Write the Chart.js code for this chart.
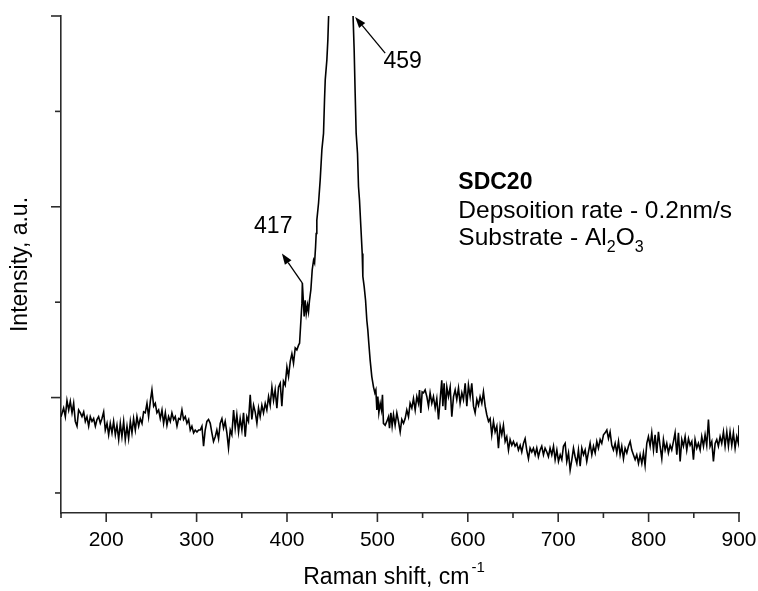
<!DOCTYPE html>
<html>
<head>
<meta charset="utf-8">
<title>SDC20 Raman spectrum</title>
<script src="https://cdn.jsdelivr.net/npm/chart.js@4.4.1/dist/chart.umd.min.js"></script>
<style>
  html, body { margin: 0; padding: 0; background: #fff; }
  #wrap { width: 758px; height: 591px; }
</style>
</head>
<body>
<div id="wrap"><canvas id="chart" width="758" height="591"></canvas></div>
<script>
// Raman shift (cm^-1) and intensity (a.u.) of the SDC20 film
const ramanShift = [
  150.0,152.9,154.8,156.6,158.5,160.3,162.2,164.0,165.8,167.7,169.5,171.4,173.2,175.1,176.9,178.7,180.6,182.4,184.3,186.1,
  188.0,189.8,191.6,193.5,195.3,197.2,199.0,200.9,202.7,204.5,206.4,208.2,210.1,211.9,213.8,215.6,217.4,219.3,221.1,223.0,
  224.8,226.7,228.5,230.3,232.2,234.0,235.9,237.7,239.6,241.4,243.2,245.1,246.9,248.8,250.6,252.5,254.3,256.1,258.0,259.8,
  261.7,263.5,265.4,267.2,269.0,270.9,272.7,274.6,276.4,278.3,280.1,281.9,283.8,285.6,287.5,289.3,291.2,293.0,294.8,296.7,
  298.5,300.4,302.2,304.1,305.9,307.7,
  309.5,311.4,313.2,315.1,316.9,318.7,320.6,322.4,324.3,326.1,328.0,329.8,331.6,333.5,335.3,337.2,339.0,340.9,342.7,344.5,
  346.4,348.2,350.1,351.9,353.8,355.6,357.4,359.3,361.1,363.0,364.8,366.7,368.5,370.3,372.2,374.0,375.9,377.7,379.6,381.4,
  383.3,385.1,386.9,388.8,390.6,392.5,394.3,396.1,398.0,
  399.9,401.7,403.6,405.4,407.2,409.1,410.9,412.8,413.9,415.4,416.5,417.0,419.0,420.1,421.3,422.7,423.8,424.9,426.4,427.9,
  429.4,430.5,431.6,432.3,433.0,434.9,436.7,438.6,440.4,441.5,442.3,444.1,445.2,445.9,446.7,450.0,455.0,459.0,463.0,468.0,
  471.0,472.9,474.3,475.4,476.5,478.0,479.1,480.2,481.7,483.2,483.9,485.4,486.9,488.3,489.4,490.5,492.0,
  493.8,495.7,497.2,498.3,499.4,500.5,501.6,503.1,504.5,505.6,506.7,508.6,510.4,512.3,513.4,514.9,516.3,517.8,519.6,521.5,
  523.3,525.2,527.0,528.9,530.7,532.5,534.4,536.2,538.1,539.9,541.8,543.6,545.4,546.6,548.0,549.5,551.0,552.8,554.7,556.5,
  558.3,560.2,562.0,563.9,565.7,567.6,569.4,571.2,572.4,573.8,575.3,576.8,578.6,580.5,582.3,584.2,586.0,587.8,589.7,591.5,
  593.4,595.2,597.1,598.9,600.7,602.6,604.4,606.3,608.1,610.0,611.8,613.6,615.5,617.3,619.2,621.0,622.9,624.7,626.5,628.4,
  630.2,632.1,633.9,635.8,637.6,639.4,641.3,643.1,645.0,646.8,648.7,650.5,652.3,654.2,656.0,657.9,659.7,661.6,663.4,665.2,
  667.1,668.9,670.8,672.6,674.5,676.3,678.1,680.0,681.8,683.7,685.5,687.4,689.2,691.0,
  692.9,694.8,696.6,698.5,700.3,702.2,704.0,705.8,707.7,709.5,711.4,713.2,715.1,716.9,718.7,720.6,722.4,724.3,726.1,728.0,
  729.8,731.6,733.5,735.3,737.2,739.0,740.9,742.7,744.5,746.4,748.2,750.1,751.9,753.8,755.6,757.4,759.3,761.1,763.0,764.8,
  766.7,768.5,770.3,772.2,774.0,775.9,777.7,779.6,781.4,783.2,785.1,786.9,788.8,790.6,792.5,794.3,796.1,798.0,799.8,801.7,
  803.5,805.4,807.2,809.0,810.9,812.7,814.6,816.4,818.3,820.1,821.9,823.8,825.6,827.5,829.3,831.2,833.0,834.9,836.7,838.5,
  840.4,842.2,844.1,845.9,847.8,849.6,851.4,853.3,855.1,857.0,858.8,860.7,862.5,864.3,866.2,868.0,869.9,871.7,873.6,875.4,
  877.2,879.1,880.9,882.8,884.6,886.5,888.3,890.1,892.0,893.8,895.7,897.5,899.4,900.0
];
const intensity = [
  80,89,80,97,87,96,84,94,75,70,87,84,80,85,75,80,70,80,75,78,
  70,77,80,73,78,85,66,73,61,73,63,75,61,71,56,73,59,75,56,70,
  57,75,63,78,66,80,70,78,73,85,84,94,80,96,108,91,94,84,87,78,
  87,73,84,71,80,75,84,77,80,70,78,77,87,77,80,73,77,66,70,63,
  66,64,66,66,70,49,
  66,75,77,73,63,54,59,66,57,73,78,68,75,63,47,66,61,87,68,82,
  64,78,66,84,59,80,75,103,77,92,85,73,89,80,92,84,94,87,101,92,
  111,97,108,89,111,115,91,117,113,
  132,122,138,146,136,152,150,155,157,181,199,220,185,202,188,197,190,202,213,234,
  244,241,258,272,286,304,328,360,377,412,433,454,475,496,515,600,760,850,770,640,
  560,505,464,419,377,356,321,307,279,251,227,216,202,181,171,157,139,
  122,111,105,108,87,101,84,94,87,103,73,71,75,80,68,84,70,82,71,84,
  75,64,77,73,78,87,80,94,89,99,87,101,94,108,84,106,105,108,101,91,
  105,94,101,89,99,77,98,118,91,115,87,111,101,111,80,101,108,98,110,94,
  105,98,115,91,113,101,115,91,84,98,92,101,94,106,91,82,75,78,61,75,
  64,70,47,70,61,71,54,59,45,56,50,54,49,52,45,50,43,52,57,45,
  36,47,43,47,40,47,38,45,49,40,47,43,38,47,
  40,49,35,45,33,40,35,49,52,33,42,24,35,47,38,31,45,28,47,40,
  45,33,43,52,40,49,42,54,47,56,52,61,63,66,57,64,50,45,52,42,
  54,40,49,36,47,42,49,54,45,40,35,40,31,40,31,42,29,52,59,49,
  63,45,61,42,64,49,36,56,45,52,42,50,45,54,63,40,63,33,56,49,
  59,45,57,50,54,35,56,47,52,45,59,49,61,50,77,49,54,33,52,56,
  49,59,52,64,49,64,49,64,50,63,47,59,52,71
];

// Axis ticks
const xMajorTicks = [200, 300, 400, 500, 600, 700, 800, 900];
const xMinorTicks = [150, 250, 350, 450, 550, 650, 750, 850];
const yMajorTicks = [100, 300, 500];
const yMinorTicks = [0, 200, 400];

// Peak labels: anchor on the spectrum, arrow head and text in data units
const peakLabels = [
  { text: '417', tail: [417, 220], head: [394.4, 251], label: [384.8, 279] },
  { text: '459', tail: [508.6, 461], head: [475.4, 499], label: [528, 452] }
];

const FONT = '"Liberation Sans", Arial, Helvetica, sans-serif';
const AXIS_COLOR = '#2b2b2b';

function arrow(ctx, x1, y1, x2, y2) {
  const a = Math.atan2(y2 - y1, x2 - x1);
  const len = 11, half = 4;
  const bx = x2 - len * Math.cos(a), by = y2 - len * Math.sin(a);
  ctx.beginPath();
  ctx.moveTo(x1, y1);
  ctx.lineTo(bx, by);
  ctx.stroke();
  ctx.beginPath();
  ctx.moveTo(x2, y2);
  ctx.lineTo(bx + half * Math.sin(a), by - half * Math.cos(a));
  ctx.lineTo(bx - half * Math.sin(a), by + half * Math.cos(a));
  ctx.closePath();
  ctx.fill();
}

const decor = {
  id: 'decor',
  afterDraw(chart) {
    const { ctx, chartArea: ca, scales: { x, y } } = chart;
    ctx.save();
    ctx.strokeStyle = AXIS_COLOR;
    ctx.lineWidth = 1.6;
    // x tick marks (outward)
    const tickMark = (px, len) => {
      ctx.beginPath(); ctx.moveTo(px, ca.bottom); ctx.lineTo(px, ca.bottom + len); ctx.stroke();
    };
    xMajorTicks.forEach(v => tickMark(x.getPixelForValue(v), 9));
    xMinorTicks.forEach(v => tickMark(x.getPixelForValue(v), 5));
    // y tick marks (outward)
    const yMark = (py, len) => {
      ctx.beginPath(); ctx.moveTo(ca.left, py); ctx.lineTo(ca.left - len, py); ctx.stroke();
    };
    yMajorTicks.forEach(v => yMark(y.getPixelForValue(v), 10));
    yMinorTicks.forEach(v => yMark(y.getPixelForValue(v), 6));

    ctx.fillStyle = '#000';
    // y title
    ctx.save();
    ctx.translate(21, (ca.top + ca.bottom) / 2);
    ctx.rotate(-Math.PI / 2);
    ctx.font = '23px ' + FONT;
    ctx.textAlign = 'center';
    ctx.textBaseline = 'middle';
    ctx.fillText('Intensity, a.u.', 0, 0);
    ctx.restore();

    // x title with superscript
    ctx.font = '23px ' + FONT;
    const main = 'Raman shift, cm';
    const wMain = ctx.measureText(main).width;
    ctx.font = '15px ' + FONT;
    const sup = '-1';
    const wSup = ctx.measureText(sup).width;
    const cx = (ca.left + ca.right) / 2 - 6;
    const startX = cx - (wMain + wSup + 2) / 2;
    ctx.textAlign = 'left';
    ctx.textBaseline = 'alphabetic';
    ctx.font = '23px ' + FONT;
    ctx.fillText(main, startX, 584);
    ctx.font = '15px ' + FONT;
    ctx.fillText(sup, startX + wMain + 2, 572);

    // peak labels and arrows
    ctx.lineWidth = 1.3;
    ctx.strokeStyle = '#000';
    peakLabels.forEach(p => {
      arrow(ctx, x.getPixelForValue(p.tail[0]), y.getPixelForValue(p.tail[1]),
                 x.getPixelForValue(p.head[0]), y.getPixelForValue(p.head[1]));
      ctx.font = '23px ' + FONT;
      ctx.textAlign = 'center';
      ctx.textBaseline = 'middle';
      ctx.fillText(p.text, x.getPixelForValue(p.label[0]), y.getPixelForValue(p.label[1]));
    });

    // sample description
    const tx = x.getPixelForValue(589.5);
    ctx.textAlign = 'left';
    ctx.textBaseline = 'alphabetic';
    ctx.font = 'bold 23px ' + FONT;
    ctx.fillText('SDC20', tx, y.getPixelForValue(318.6));
    ctx.font = '24.5px ' + FONT;
    ctx.fillText('Depsoition rate - 0.2nm/s', tx, y.getPixelForValue(288.2));
    const by = y.getPixelForValue(259.9);
    let cur = tx;
    const seg = (t, size, dy) => {
      ctx.font = size + 'px ' + FONT;
      ctx.fillText(t, cur, by + dy);
      cur += ctx.measureText(t).width;
    };
    seg('Substrate - Al', 24.5, 0);
    seg('2', 16, 7);
    seg('O', 24.5, 0);
    seg('3', 16, 7);
    ctx.restore();
  }
};

new Chart(document.getElementById('chart'), {
  type: 'line',
  data: {
    datasets: [{
      data: ramanShift.map((v, i) => ({ x: v, y: intensity[i] })),
      borderColor: '#000',
      borderWidth: 1.6,
      pointRadius: 0,
      tension: 0,
      fill: false
    }]
  },
  options: {
    responsive: false,
    animation: false,
    events: [],
    layout: { padding: { top: 16, right: 19, left: 0, bottom: 0 } },
    plugins: { legend: { display: false }, tooltip: { enabled: false } },
    scales: {
      x: {
        type: 'linear',
        min: 150,
        max: 900,
        afterBuildTicks(scale) { scale.ticks = xMajorTicks.map(v => ({ value: v })); },
        afterFit(scale) { scale.height = 78; scale.paddingLeft = 0; scale.paddingRight = 0; },
        grid: { display: false, drawTicks: false },
        border: { display: true, color: AXIS_COLOR, width: 1.6 },
        ticks: { padding: 15, color: '#000', autoSkip: false, maxRotation: 0, font: { family: FONT, size: 21 } }
      },
      y: {
        type: 'linear',
        min: -21,
        max: 500,
        afterFit(scale) { scale.width = 61; scale.paddingTop = 0; scale.paddingBottom = 0; },
        grid: { display: false, drawTicks: false },
        border: { display: true, color: AXIS_COLOR, width: 1.6 },
        ticks: { display: false }
      }
    }
  },
  plugins: [decor]
});
</script>
</body>
</html>
